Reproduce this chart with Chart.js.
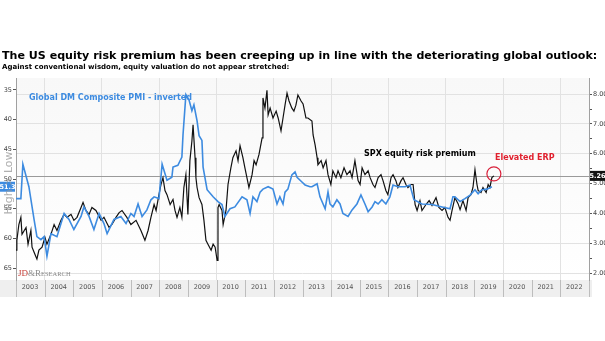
<!DOCTYPE html>
<html>
<head>
<meta charset="utf-8">
<script src="https://cdn.jsdelivr.net/npm/chart.js@4.4.1/dist/chart.umd.min.js"></script>
<style>
  html, body { margin: 0; padding: 0; background: #fff; }
  #wrap { width: 605px; height: 341px; }
</style>
</head>
<body>
<div id="wrap"><canvas id="erpChart" width="605" height="341"></canvas></div>
<script>
  const titleText = "The US equity risk premium has been creeping up in line with the deteriorating global outlook:";
  const subtitleText = "Against conventional wisdom, equity valuation do not appear stretched:";

  const yearTicks = [2003, 2004, 2005, 2006, 2007, 2008, 2009, 2010, 2011, 2012,
    2013, 2014, 2015, 2016, 2017, 2018, 2019, 2020, 2021, 2022];
  const erpTicks = [2, 2.5, 3, 3.5, 4, 4.5, 5, 5.5, 6, 6.5, 7, 7.5, 8];
  const pmiTicks = [35, 40, 45, 50, 55, 60, 65];

  // SPX equity risk premium (right axis)
  const erpDates = [2003.00, 2003.03, 2003.10, 2003.17, 2003.21, 2003.35, 2003.42, 2003.52, 2003.56, 2003.66,
    2003.73, 2003.80, 2003.91, 2004.01, 2004.08, 2004.22, 2004.33, 2004.43, 2004.57, 2004.68,
    2004.78, 2004.92, 2005.02, 2005.13, 2005.27, 2005.34, 2005.44, 2005.55, 2005.65, 2005.79,
    2005.97, 2006.07, 2006.25, 2006.35, 2006.49, 2006.60, 2006.70, 2006.87, 2007.01, 2007.19,
    2007.36, 2007.50, 2007.61, 2007.71, 2007.82, 2007.89, 2007.99, 2008.06, 2008.13, 2008.20,
    2008.27, 2008.38, 2008.48, 2008.55, 2008.62, 2008.72, 2008.79, 2008.86, 2008.93, 2009.00,
    2009.07, 2009.14, 2009.18, 2009.25, 2009.28, 2009.32, 2009.39, 2009.49, 2009.56, 2009.63,
    2009.70, 2009.81, 2009.88, 2009.95, 2010.02, 2010.05, 2010.09, 2010.19, 2010.23, 2010.33,
    2010.40, 2010.50, 2010.57, 2010.68, 2010.75, 2010.82, 2010.92, 2010.99, 2011.06, 2011.13,
    2011.24, 2011.31, 2011.38, 2011.48, 2011.59, 2011.62, 2011.69, 2011.76, 2011.80, 2011.87,
    2011.97, 2012.08, 2012.15, 2012.25, 2012.32, 2012.39, 2012.46, 2012.53, 2012.63, 2012.70,
    2012.77, 2012.84, 2012.95, 2013.02, 2013.12, 2013.19, 2013.33, 2013.37, 2013.44, 2013.51,
    2013.54, 2013.65, 2013.72, 2013.82, 2013.89, 2013.99, 2014.06, 2014.17, 2014.24, 2014.34,
    2014.45, 2014.55, 2014.66, 2014.73, 2014.83, 2014.94, 2015.01, 2015.08, 2015.18, 2015.29,
    2015.36, 2015.46, 2015.53, 2015.64, 2015.74, 2015.81, 2015.91, 2015.98, 2016.09, 2016.16,
    2016.26, 2016.33, 2016.44, 2016.51, 2016.61, 2016.68, 2016.79, 2016.86, 2016.93, 2017.00,
    2017.10, 2017.17, 2017.31, 2017.42, 2017.52, 2017.66, 2017.76, 2017.87, 2017.97, 2018.08,
    2018.15, 2018.22, 2018.32, 2018.43, 2018.50, 2018.60, 2018.71, 2018.78, 2018.88, 2018.95,
    2019.02, 2019.09, 2019.13, 2019.23, 2019.30, 2019.41, 2019.48, 2019.54, 2019.61, 2019.68];
  const erpValues = [2.77, 3.10, 3.63, 3.87, 3.30, 3.53, 2.97, 3.43, 2.87, 2.63,
    2.47, 2.77, 2.87, 3.20, 2.97, 3.30, 3.63, 3.43, 3.77, 3.97,
    3.87, 3.97, 3.77, 3.87, 4.20, 4.37, 4.10, 3.97, 4.20, 4.10,
    3.77, 3.87, 3.53, 3.63, 3.87, 4.03, 4.10, 3.87, 3.63, 3.77,
    3.43, 3.10, 3.43, 3.87, 4.30, 4.10, 4.63, 4.97, 5.20, 4.77,
    4.63, 4.30, 4.47, 4.10, 3.87, 4.20, 3.87, 4.87, 5.30, 3.97,
    5.77, 6.43, 6.97, 5.87, 5.20, 4.87, 4.53, 4.30, 3.77, 3.10,
    2.97, 2.77, 2.97, 2.87, 2.43, 4.20, 4.30, 4.10, 3.63, 4.10,
    4.97, 5.53, 5.87, 6.10, 5.77, 6.27, 5.87, 5.53, 5.20, 4.87,
    5.30, 5.77, 5.63, 5.97, 6.53, 7.87, 7.53, 8.13, 7.30, 7.53,
    7.20, 7.43, 7.20, 6.77, 7.20, 7.63, 8.03, 7.77, 7.53, 7.43,
    7.63, 7.97, 7.77, 7.67, 7.20, 7.20, 7.10, 6.63, 6.30, 5.87,
    5.63, 5.77, 5.53, 5.77, 5.30, 4.97, 5.43, 5.20, 5.43, 5.20,
    5.53, 5.30, 5.43, 5.20, 5.77, 5.10, 4.97, 5.53, 5.30, 5.43,
    5.20, 4.97, 4.87, 5.20, 5.30, 5.10, 4.77, 4.63, 5.20, 5.30,
    5.10, 4.87, 5.10, 5.20, 4.97, 4.87, 4.97, 4.97, 4.30, 4.10,
    4.43, 4.10, 4.30, 4.43, 4.27, 4.53, 4.20, 4.10, 4.20, 3.87,
    3.77, 4.10, 4.53, 4.33, 4.13, 4.43, 4.10, 4.53, 4.63, 4.87,
    5.47, 4.97, 4.77, 4.70, 4.87, 4.70, 4.97, 4.87, 5.20, 5.26];

  // Global DM Composite PMI, plotted on an inverted left axis
  const pmiDates = [2003.00, 2003.17, 2003.24, 2003.45, 2003.63, 2003.73, 2003.87, 2003.98, 2004.08, 2004.22,
    2004.43, 2004.57, 2004.68, 2004.85, 2005.02, 2005.27, 2005.37, 2005.55, 2005.72, 2005.90,
    2006.07, 2006.18, 2006.42, 2006.66, 2006.84, 2007.01, 2007.12, 2007.26, 2007.40, 2007.57,
    2007.71, 2007.82, 2007.99, 2008.10, 2008.27, 2008.44, 2008.48, 2008.65, 2008.79, 2008.83,
    2008.93, 2009.04, 2009.14, 2009.21, 2009.32, 2009.39, 2009.49, 2009.53, 2009.67, 2009.88,
    2010.05, 2010.19, 2010.29, 2010.47, 2010.64, 2010.89, 2011.06, 2011.17, 2011.27, 2011.41,
    2011.52, 2011.62, 2011.80, 2011.97, 2012.11, 2012.21, 2012.32, 2012.39, 2012.49, 2012.63,
    2012.74, 2012.81, 2012.98, 2013.09, 2013.26, 2013.33, 2013.51, 2013.61, 2013.79, 2013.89,
    2013.96, 2014.06, 2014.20, 2014.31, 2014.41, 2014.59, 2014.73, 2014.90, 2015.04, 2015.18,
    2015.29, 2015.43, 2015.53, 2015.64, 2015.77, 2015.91, 2016.05, 2016.16, 2016.33, 2016.58,
    2016.75, 2016.89, 2017.17, 2017.52, 2017.87, 2018.15, 2018.25, 2018.32, 2018.50, 2018.67,
    2018.85, 2019.02, 2019.13, 2019.26, 2019.44, 2019.61];
  const pmiValues = [53.3, 53.3, 47.5, 51.3, 56.8, 59.7, 60.2, 59.7, 63.0, 59.2,
    59.7, 57.5, 55.8, 56.8, 58.5, 56.3, 54.7, 56.3, 58.5, 55.8,
    57.5, 59.2, 56.8, 56.3, 57.5, 55.8, 56.3, 54.2, 56.3, 55.2,
    53.5, 53.0, 53.3, 47.5, 50.2, 49.7, 48.0, 47.7, 46.3, 42.5,
    35.8, 36.7, 38.5, 37.5, 40.2, 42.7, 43.5, 48.0, 51.8, 53.0,
    53.8, 54.3, 56.3, 55.0, 54.7, 53.0, 53.5, 55.8, 53.0, 53.8,
    52.2, 51.7, 51.3, 51.7, 54.2, 53.0, 54.2, 52.2, 51.7, 49.3,
    48.8, 49.7, 50.5, 51.0, 51.3, 51.3, 50.8, 53.0, 55.0, 52.2,
    54.2, 54.7, 53.5, 54.2, 55.8, 56.3, 55.2, 54.2, 52.7, 54.2,
    55.5, 54.7, 53.8, 54.2, 53.5, 54.2, 53.0, 51.0, 51.3, 51.3,
    51.0, 53.5, 54.2, 54.3, 54.7, 55.0, 53.0, 53.0, 53.8, 53.3,
    52.7, 51.8, 52.5, 51.8, 51.7, 51.3];

  const erpPoints = erpDates.map((d, i) => ({ x: d, y: erpValues[i] }));
  const pmiPoints = pmiDates.map((d, i) => ({ x: d, y: pmiValues[i] }));

  const blue = "#3d8be0";
  const fam = "'DejaVu Sans', Verdana, sans-serif";

  Chart.defaults.font.family = fam;

  function fitText(ctx, text, x, y, width) {
    ctx.font = "bold 12px " + fam;
    const size = 12 * width / ctx.measureText(text).width;
    ctx.font = "bold " + size.toFixed(2) + "px " + fam;
    ctx.fillText(text, x, y);
  }

  function valueBox(ctx, text, x, y, w, bg) {
    ctx.fillStyle = bg;
    ctx.fillRect(x, y - 5, w, 10);
    ctx.fillStyle = "#fff";
    ctx.font = "bold 6.5px " + fam;
    ctx.textAlign = "center";
    ctx.textBaseline = "middle";
    ctx.fillText(text, x + w / 2, y + 0.5);
  }

  const decor = {
    id: "decor",
    beforeDraw(chart) {
      const { ctx, chartArea: a, scales } = chart;
      ctx.save();
      ctx.fillStyle = "#fff";
      ctx.fillRect(0, 0, chart.width, chart.height);

      const g = ctx.createLinearGradient(0, a.top, 0, a.bottom);
      g.addColorStop(0, "#f8f8f8");
      g.addColorStop(1, "#ffffff");
      ctx.fillStyle = g;
      ctx.fillRect(a.left, a.top, a.right - a.left, a.bottom - a.top);

      // year band under the plot
      const xs = scales.x;
      ctx.fillStyle = "#efefef";
      ctx.fillRect(0, a.bottom, a.right + 3, xs.height);
      ctx.strokeStyle = "#bdbdbd";
      ctx.lineWidth = 1;
      yearTicks.concat([yearTicks[yearTicks.length - 1] + 1]).forEach((yr) => {
        const px = Math.round(xs.getPixelForValue(yr)) + 0.5;
        ctx.beginPath();
        ctx.moveTo(px, a.bottom);
        ctx.lineTo(px, a.bottom + xs.height);
        ctx.stroke();
      });

      // titles
      ctx.fillStyle = "#000";
      ctx.textAlign = "left";
      ctx.textBaseline = "alphabetic";
      fitText(ctx, titleText, 2, 59, 596);
      fitText(ctx, subtitleText, 2, 69, 288);
      ctx.restore();
    },
    beforeDatasetsDraw(chart) {
      const { ctx, chartArea: a, scales } = chart;
      const last = erpValues[erpValues.length - 1];
      const py = Math.round(scales.yR.getPixelForValue(last)) + 0.5;
      ctx.save();
      ctx.strokeStyle = "#9a9a9a";
      ctx.lineWidth = 1;
      ctx.beginPath();
      ctx.moveTo(a.left, py);
      ctx.lineTo(a.right, py);
      ctx.stroke();
      ctx.restore();
    },
    afterDraw(chart) {
      const { ctx, chartArea: a, scales } = chart;
      ctx.save();

      // series labels
      ctx.textAlign = "left";
      ctx.textBaseline = "alphabetic";
      ctx.font = "bold 8px " + fam;
      ctx.fillStyle = blue;
      ctx.fillText("Global DM Composite PMI - inverted", 29, 100);
      ctx.fillStyle = "#000";
      ctx.fillText("SPX equity risk premium", 364, 156);
      ctx.fillStyle = "#e0202e";
      ctx.fillText("Elevated ERP", 495, 160);

      // circle around the latest ERP reading
      const lx = scales.x.getPixelForValue(erpDates[erpDates.length - 1]);
      const ly = scales.yR.getPixelForValue(erpValues[erpValues.length - 1]);
      ctx.strokeStyle = "#d8203a";
      ctx.lineWidth = 1.2;
      ctx.beginPath();
      ctx.arc(lx, ly - 2, 7, 0, Math.PI * 2);
      ctx.stroke();

      // last value boxes
      const lastErp = erpValues[erpValues.length - 1];
      valueBox(ctx, lastErp.toFixed(2), a.right + 1, scales.yR.getPixelForValue(lastErp), 15, "#111");
      const lastPmi = pmiValues[pmiValues.length - 1];
      valueBox(ctx, lastPmi.toFixed(1), 0, scales.yL.getPixelForValue(lastPmi), 15, blue);

      // left axis caption
      ctx.save();
      ctx.translate(9, 183);
      ctx.rotate(-Math.PI / 2);
      ctx.font = "11px " + fam;
      ctx.fillStyle = "rgba(150,150,150,0.75)";
      ctx.textAlign = "center";
      ctx.textBaseline = "middle";
      ctx.fillText("High > Low", 0, 0);
      ctx.restore();

      // watermark
      ctx.textBaseline = "alphabetic";
      ctx.textAlign = "left";
      ctx.font = "9px 'Liberation Serif', serif";
      ctx.fillStyle = "#c8413a";
      ctx.fillText("JD", 18, 276);
      let wx = 18 + ctx.measureText("JD").width;
      ctx.fillStyle = "#8a8a8a";
      ctx.fillText("&R", wx, 276);
      wx += ctx.measureText("&R").width;
      ctx.font = "6.5px 'Liberation Serif', serif";
      ctx.fillText("ESEARCH", wx, 276);

      ctx.restore();
    }
  };

  new Chart(document.getElementById("erpChart"), {
    type: "line",
    data: {
      datasets: [
        {
          label: "Global DM Composite PMI - inverted",
          data: pmiPoints,
          yAxisID: "yL",
          borderColor: blue,
          borderWidth: 1.6,
          pointRadius: 0,
          tension: 0,
        },
        {
          label: "SPX equity risk premium",
          data: erpPoints,
          yAxisID: "yR",
          borderColor: "#111",
          borderWidth: 1.2,
          pointRadius: 0,
          tension: 0,
        },
      ],
    },
    options: {
      responsive: false,
      animation: false,
      layout: { padding: { top: 78, left: 0, right: 0, bottom: 44 } },
      plugins: {
        legend: { display: false },
        tooltip: { enabled: false },
      },
      scales: {
        x: {
          type: "linear",
          min: 2003,
          max: 2023,
          afterBuildTicks: (axis) => {
            axis.ticks = yearTicks.concat([2023]).map((v) => ({ value: v }));
          },
          afterFit: (axis) => { axis.height = 17; },
          ticks: {
            autoSkip: false,
            maxRotation: 0,
            labelOffset: 14,
            padding: 3,
            color: "#555",
            font: { size: 6.5 },
            callback: (v) => (yearTicks.includes(v) ? String(v) : ""),
          },
          grid: {
            drawTicks: false,
            color: (c) => (c.tick && c.tick.value % 2 === 0 ? "#e2e2e2" : "rgba(0,0,0,0)"),
          },
          border: { display: false },
        },
        yL: {
          position: "left",
          reverse: true,
          min: 33,
          max: 67,
          afterBuildTicks: (axis) => {
            axis.ticks = pmiTicks.map((v) => ({ value: v }));
          },
          afterFit: (axis) => { axis.width = 16; },
          ticks: {
            padding: 1,
            color: "#444",
            font: { size: 6.5 },
          },
          grid: {
            drawOnChartArea: false,
            tickLength: 3,
            tickColor: "#555",
          },
          border: { color: "#a0a0a0" },
        },
        yR: {
          position: "right",
          min: 1.77,
          max: 8.54,
          afterBuildTicks: (axis) => {
            axis.ticks = erpTicks.map((v) => ({ value: v }));
          },
          afterFit: (axis) => { axis.width = 16; },
          ticks: {
            padding: 1,
            color: "#444",
            font: { size: 6.5 },
            callback: (v) => (Number.isInteger(v) ? v.toFixed(2) : ""),
          },
          grid: {
            tickLength: 3,
            tickColor: "#555",
            color: (c) => (c.tick && Number.isInteger(c.tick.value) ? "#e2e2e2" : "rgba(0,0,0,0)"),
          },
          border: { color: "#a0a0a0" },
        },
      },
    },
    plugins: [decor],
  });
</script>
</body>
</html>
